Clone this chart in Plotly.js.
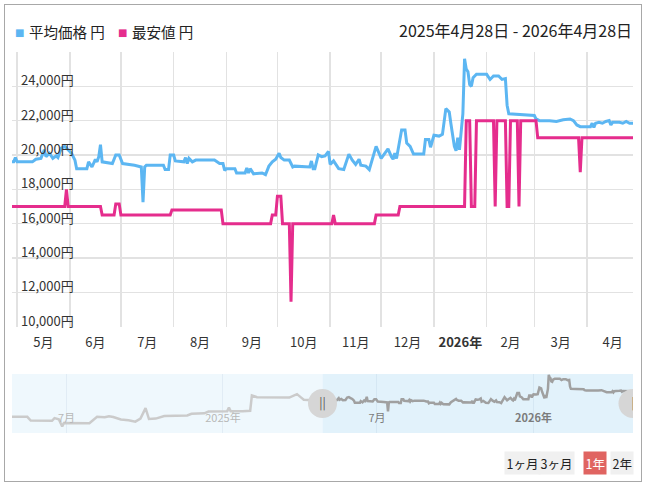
<!DOCTYPE html>
<html><head><meta charset="utf-8">
<script src="https://cdn.plot.ly/plotly-3.0.1.min.js"></script>
<style>
body{margin:0;background:#fff;}
#wrap{position:relative;width:646px;height:485px;}
#chart{position:absolute;left:0;top:0;width:646px;height:485px;}
#frame{position:absolute;left:4px;top:4px;width:636px;height:476px;border:1px solid #a8a8a8;pointer-events:none;}
</style></head><body>
<div id="wrap"><div id="chart"></div><div id="frame"></div></div>
<script>
// ---------- data ----------
const avgDates = ['2025-04-28','2025-04-29','2025-04-30','2025-05-01','2025-05-10','2025-05-12','2025-05-15','2025-05-16','2025-05-17','2025-05-18','2025-05-20','2025-05-22','2025-05-24','2025-05-25','2025-05-27','2025-05-29','2025-05-31','2025-06-02','2025-06-04','2025-06-05','2025-06-11','2025-06-12','2025-06-14','2025-06-16','2025-06-17','2025-06-18','2025-06-19','2025-06-20','2025-06-26','2025-06-28','2025-06-30','2025-07-02','2025-07-09','2025-07-13','2025-07-14','2025-07-15','2025-07-16','2025-07-26','2025-07-27','2025-07-29','2025-07-30','2025-08-01','2025-08-02','2025-08-07','2025-08-08','2025-08-09','2025-08-10','2025-08-12','2025-08-14','2025-08-25','2025-08-28','2025-08-30','2025-08-31','2025-09-01','2025-09-06','2025-09-07','2025-09-12','2025-09-13','2025-09-14','2025-09-15','2025-09-17','2025-09-22','2025-09-24','2025-09-26','2025-09-28','2025-09-30','2025-10-02','2025-10-03','2025-10-05','2025-10-08','2025-10-10','2025-10-11','2025-10-20','2025-10-21','2025-10-22','2025-10-23','2025-10-25','2025-10-27','2025-10-29','2025-10-31','2025-11-01','2025-11-03','2025-11-06','2025-11-09','2025-11-12','2025-11-14','2025-11-16','2025-11-18','2025-11-19','2025-11-22','2025-11-24','2025-11-28','2025-12-01','2025-12-03','2025-12-05','2025-12-07','2025-12-08','2025-12-09','2025-12-10','2025-12-13','2025-12-15','2025-12-16','2025-12-18','2025-12-20','2025-12-26','2025-12-27','2025-12-29','2025-12-30','2026-01-01','2026-01-04','2026-01-06','2026-01-08','2026-01-10','2026-01-11','2026-01-13','2026-01-14','2026-01-15','2026-01-16','2026-01-18','2026-01-19','2026-01-20','2026-01-21','2026-01-22','2026-01-23','2026-01-24','2026-01-26','2026-02-01','2026-02-03','2026-02-05','2026-02-08','2026-02-10','2026-02-12','2026-02-13','2026-02-14','2026-02-20','2026-02-26','2026-03-01','2026-03-02','2026-03-04','2026-03-10','2026-03-14','2026-03-18','2026-03-22','2026-03-24','2026-03-26','2026-03-28','2026-04-03','2026-04-04','2026-04-05','2026-04-06','2026-04-08','2026-04-10','2026-04-12','2026-04-14','2026-04-15','2026-04-16','2026-04-20','2026-04-22','2026-04-24','2026-04-26','2026-04-28'];
const avgValues = [19600,19600,19850,19600,19600,19750,19800,20100,20300,19900,20100,19800,19950,19850,20400,20500,20300,20100,19700,19200,19200,19600,19300,19750,19600,19900,20600,19600,19500,20000,20000,19500,19400,19300,17250,19300,19400,19400,19150,19150,20000,20000,19650,19600,19850,19500,19800,19600,19700,19700,19500,19500,19100,19200,19200,18950,18950,19250,18950,19200,18900,18950,18850,19350,19600,19750,20100,19850,19700,19700,19300,19350,19300,19650,19200,19200,20000,19900,19950,20200,19450,19650,19200,19150,20050,19700,19450,19750,19400,19350,19150,20500,19800,20100,20350,19900,19750,20100,19800,21450,21450,20700,20500,20050,20050,20900,20900,20450,21150,21100,21200,22700,22500,21800,20500,20250,21000,20300,22400,25600,25000,24850,24100,24000,24500,24700,24700,24400,24600,24600,24400,24450,22900,22400,22350,22300,22300,22100,22000,22000,21950,22050,22100,22000,21750,21650,21650,21850,21600,21850,21900,21850,21950,22000,21750,21900,21900,21850,21950,21850,21850];

const minDates = ['2025-04-28','2025-05-29','2025-05-30','2025-05-31','2025-06-19','2025-06-20','2025-06-27','2025-06-28','2025-06-30','2025-07-01','2025-07-30','2025-07-31','2025-08-29','2025-08-30','2025-09-27','2025-09-28','2025-09-30','2025-10-01','2025-10-03','2025-10-04','2025-10-08','2025-10-09','2025-10-10','2025-11-02','2025-11-03','2025-11-04','2025-11-27','2025-11-28','2025-12-11','2025-12-12','2026-01-19','2026-01-20','2026-01-22','2026-01-23','2026-01-25','2026-01-26','2026-02-05','2026-02-06','2026-02-07','2026-02-12','2026-02-13','2026-02-14','2026-02-15','2026-02-19','2026-02-20','2026-02-21','2026-03-02','2026-03-03','2026-03-27','2026-03-28','2026-03-29','2026-04-28'];
const minValues = [17000,17000,18000,17000,17000,16500,16500,17150,17150,16500,16500,16800,16800,16000,16000,16500,16500,17600,17600,16000,16000,11450,16000,16000,16500,16000,16000,16500,16500,17000,17000,22000,22000,17000,17000,22000,22000,17000,22000,22000,17000,17000,22000,22000,17000,22000,22000,21000,21000,19000,21000,21000];

// navigator: previous year of the average price
const navPrevDates = ['2024-04-28','2024-05-16','2024-05-20','2024-06-14','2024-06-17','2024-06-22','2024-06-26','2024-06-28','2024-07-28','2024-08-03','2024-08-06','2024-08-15','2024-08-20','2024-08-25','2024-09-03','2024-09-12','2024-09-20','2024-09-26','2024-10-02','2024-10-06','2024-10-14','2024-10-24','2024-11-20','2024-11-25','2024-12-10','2024-12-15','2025-01-06','2025-01-08','2025-01-10','2025-01-24','2025-02-02','2025-02-04','2025-02-10','2025-03-20','2025-03-29','2025-04-03','2025-04-06','2025-04-27'];
const navPrevValues = [16000,16000,15150,15100,15700,15450,13800,14600,14550,15650,16000,15900,16150,15950,15400,15200,14900,15600,18000,15500,15600,16200,16300,16700,16800,17200,17300,18100,17300,17300,17400,20900,20500,20400,21200,20400,19900,19700];

const monthStarts = ['2025-05-01','2025-06-01','2025-07-01','2025-08-01','2025-09-01','2025-10-01','2025-11-01','2025-12-01','2026-01-01','2026-02-01','2026-03-01','2026-04-01','2026-05-01'];
const monthLabels = ['5月','6月','7月','8月','9月','10月','11月','12月','2026年','2月','3月','4月'];
const yTickVals = [10000,12000,14000,16000,18000,20000,22000,24000,26000];
const yTickText = ['10,000円','12,000円','14,000円','16,000円','18,000円','20,000円','22,000円','24,000円',''];
const navTickVals = ['2024-07-01','2025-01-01','2025-07-01','2026-01-01'];
const navTickText = ['7月','2025年','7月','2026年'];
const seriesNames = ['平均価格 円','最安値 円'];
const dateRangeText = '2025年4月28日 - 2026年4月28日';
const buttonLabels = ['1ヶ月','3ヶ月','1年','2年'];
const selectedButton = '1年';
const mainRange = ['2025-04-28','2026-04-28'];
const navRange = ['2024-04-28','2026-04-28'];
const mainYRange = [10000, 26000];
const navYRange = [12300, 25800];

// ---------- helpers ----------
const W=646,H=485,ML=12,MR=13,MT=52,MB=52;
const PW=W-ML-MR, PH=H-MT-MB;
const px = x => (x-ML)/PW;
const py = y => (H-MB-y)/PH;
const pad = n => String(n).padStart(2,'0');
function fmt(ms){const d=new Date(ms);return d.getUTCFullYear()+'-'+pad(d.getUTCMonth()+1)+'-'+pad(d.getUTCDate())+' '+pad(d.getUTCHours())+':'+pad(d.getUTCMinutes());}
const toMs = s => Date.parse(s+'T00:00:00Z');
const midTicks = monthLabels.map((_,i)=>fmt((toMs(monthStarts[i])+toMs(monthStarts[i+1]))/2));
const midText = monthLabels.map(t => t.indexOf('年')>=0 ? '<b>'+t+'</b>' : t);
const selStart = toMs(mainRange[0]);
const navText = navTickText.map((t,i)=>{
  const sel = toMs(navTickVals[i])>=selStart;
  const c = sel ? '#7c7c7c' : '#b8b8b8';
  const inner = (sel && t.indexOf('年')>=0) ? '<b>'+t+'</b>' : t;
  return '<span style="color:'+c+'">'+inner+'</span>';
});

const FONT = "'Noto Sans CJK JP','Noto Sans',sans-serif";
const BLUE='#5cb6f2', PINK='#e52d8d';

const traces = [
  {x:avgDates,y:avgValues,type:'scatter',mode:'lines',line:{color:BLUE,width:3},xaxis:'x',yaxis:'y',showlegend:false,name:seriesNames[0]},
  {x:minDates,y:minValues,type:'scatter',mode:'lines',line:{color:PINK,width:3},xaxis:'x',yaxis:'y',showlegend:false,name:seriesNames[1]},
  {x:navPrevDates.concat([avgDates[0]]),y:navPrevValues.concat([avgValues[0]]),type:'scatter',mode:'lines',line:{color:'#cbcbcb',width:2.5},xaxis:'x2',yaxis:'y2',showlegend:false},
  {x:avgDates,y:avgValues,type:'scatter',mode:'lines',line:{color:'#a0a0a0',width:2.5},xaxis:'x2',yaxis:'y2',showlegend:false},
  {x:[mainRange[0],mainRange[1]],y:[(navYRange[0]+navYRange[1])/2,(navYRange[0]+navYRange[1])/2],type:'scatter',mode:'markers+text',
   marker:{size:29,color:'#d6d6d6',line:{width:0}},text:['||','|'],textposition:'middle center',textfont:{family:FONT,size:12,color:'#555'},
   xaxis:'x2',yaxis:'y2',showlegend:false}
];

const annotations = [];
// y tick labels drawn inside the plot, just above their gridlines
yTickVals.forEach((v,i)=>{
  if(!yTickText[i]) return;
  annotations.push({xref:'paper',yref:'y',x:px(19),y:v,text:yTickText[i],showarrow:false,xanchor:'left',yanchor:'middle',yshift:6.5,
    font:{family:FONT,size:13,color:'#333'}});
});
// legend
[[19.5,BLUE,27,0],[122.5,PINK,130,1]].forEach(([sx,col,tx,i])=>{
  annotations.push({xref:'paper',yref:'paper',x:px(sx),y:py(32.5),text:'■',showarrow:false,xanchor:'center',yanchor:'middle',font:{family:'DejaVu Sans',size:10,color:col}});
  annotations.push({xref:'paper',yref:'paper',x:px(tx),y:py(31),text:seriesNames[i],showarrow:false,xanchor:'left',yanchor:'middle',font:{family:FONT,size:14.5,color:'#222'}});
});
annotations.push({xref:'paper',yref:'paper',x:px(634),y:py(30.5),text:dateRangeText,showarrow:false,xanchor:'right',yanchor:'middle',font:{family:FONT,size:16,color:'#222'}});
// range buttons
const btnX=[522.5,556.5,594.5,622];
buttonLabels.forEach((b,i)=>{
  const sel = b===selectedButton;
  annotations.push({xref:'paper',yref:'paper',x:px(btnX[i]),y:py(463),text:b,showarrow:false,xanchor:'center',yanchor:'middle',
    bgcolor: sel?'#e06461':'#f0f0f0',borderpad:1.5,font:{family:FONT,size:12.5,color: sel?'#fff':'#222'}});
});

const shapes = [
  {type:'rect',xref:'x2',yref:'y2 domain',x0:navRange[0],x1:mainRange[0],y0:0,y1:1,fillcolor:'#eff8fd',line:{width:0},layer:'below'},
  {type:'rect',xref:'x2',yref:'y2 domain',x0:mainRange[0],x1:mainRange[1],y0:0,y1:1,fillcolor:'#e2f2fb',line:{width:0},layer:'below'}
];

const layout = {
  width:W,height:H,margin:{l:ML,r:MR,t:MT,b:MB,pad:0},
  paper_bgcolor:'#fff',plot_bgcolor:'rgba(0,0,0,0)',
  font:{family:FONT,color:'#333'},
  showlegend:false,
  xaxis:{domain:[0,1],anchor:'y',type:'date',range:mainRange,tickmode:'array',tickvals:midTicks,ticktext:midText,
    showgrid:false,zeroline:false,showline:false,ticks:'outside',ticklen:4,tickcolor:'rgba(0,0,0,0)',
    tickfont:{family:FONT,size:13,color:'#333'},
    minor:{tickmode:'array',tickvals:monthStarts,showgrid:true,gridcolor:'#e2e2e2',gridwidth:1.5,ticks:''}},
  yaxis:{domain:[py(326.6),1],anchor:'x',range:mainYRange,tickmode:'array',tickvals:yTickVals,
    showticklabels:false,showgrid:true,gridcolor:'#e2e2e2',gridwidth:1.5,zeroline:false,showline:false},
  xaxis2:{domain:[0,1],anchor:'y2',type:'date',range:navRange,tickmode:'array',tickvals:navTickVals,ticktext:navText,
    ticklabelposition:'inside',ticks:'inside',ticklen:8,tickcolor:'rgba(0,0,0,0)',showgrid:true,gridcolor:'rgba(120,160,190,0.12)',zeroline:false,showline:false,
    tickfont:{family:FONT,size:11,color:'#999'}},
  yaxis2:{domain:[0,py(374)],anchor:'x2',range:navYRange,showticklabels:false,showgrid:false,zeroline:false},
  annotations:annotations,
  shapes:shapes
};

Plotly.newPlot('chart',traces,layout,{staticPlot:true,displayModeBar:false});
</script>
</body></html>
